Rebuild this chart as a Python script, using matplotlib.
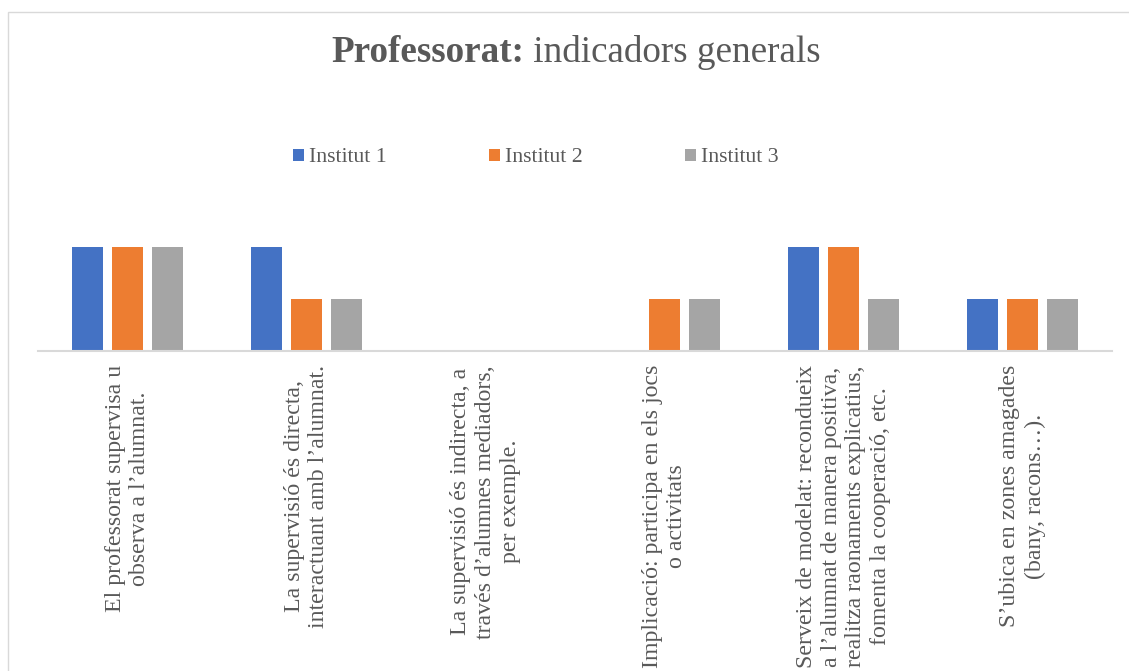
import matplotlib
matplotlib.use("Agg")
import matplotlib.pyplot as plt
import numpy as np
from matplotlib.patches import Rectangle

plt.rcParams['font.family'] = ['Liberation Serif', 'DejaVu Serif']

categories = [
    "El professorat supervisa u\nobserva a l\u2019alumnat.",
    "La supervisió és directa,\ninteractuant amb l\u2019alumnat.",
    "La supervisió és indirecta, a\ntravés d\u2019alumnes mediadors,\nper exemple.",
    "Implicació: participa en els jocs\no activitats",
    "Serveix de modelat: recondueix\na l\u2019alumnat de manera positiva,\nrealitza raonaments explicatius,\nfomenta la cooperació, etc.",
    "S\u2019ubica en zones amagades\n(bany, racons\u2026).",
]
series_names = ["Institut 1", "Institut 2", "Institut 3"]
institut1 = [2, 2, 0, 0, 2, 1]
institut2 = [2, 1, 0, 1, 2, 1]
institut3 = [2, 1, 0, 1, 1, 1]
colors = ["#4472C4", "#ED7D31", "#A5A5A5"]

W, H = 1129, 671
fig = plt.figure(figsize=(W / 100, H / 100), dpi=100)

# chart frame
fig.add_artist(Rectangle((8 / W, -0.05), 1.1, 1 - 12 / H + 0.05,
                         transform=fig.transFigure, fill=False,
                         edgecolor="#D9D9D9", linewidth=1.0))

left, right = 38, 1112
bottom, top = 351, 195
ax = fig.add_axes([left / W, 1 - bottom / H, (right - left) / W, (bottom - top) / H])

x = np.arange(len(categories))
bw = 0.175
step = 0.223
handles = []
for i, (vals, c, name) in enumerate(zip([institut1, institut2, institut3], colors, series_names)):
    b = ax.bar(x + (i - 1) * step, vals, width=bw, color=c, label=name, zorder=2)
    handles.append(b)

ax.set_xlim(-0.5, len(categories) - 0.5)
ax.set_ylim(0, 3)
for s in ["top", "right", "left"]:
    ax.spines[s].set_visible(False)
ax.spines["bottom"].set_color("#D9D9D9")
ax.spines["bottom"].set_linewidth(1.5)
ax.set_yticks([])
ax.set_xticks(x)
ax.set_xticklabels(categories, rotation=90, fontsize=17.2, color="#595959",
                   ha="center", va="top", multialignment="center", linespacing=1.24)
ax.tick_params(axis="x", length=0, pad=10)

# legend
fig.legend(handles=handles, labels=series_names, loc="center",
           bbox_to_anchor=(536 / W, 1 - 158 / H), ncol=3, frameon=False,
           fontsize=15.7, labelcolor="#595959", handlelength=0.5,
           handleheight=0.5, handletextpad=0.23, columnspacing=4.7)

# title with bold part
t1 = fig.text(331 / W, 1 - 53 / H, "Professorat:", fontsize=26.7, fontweight="bold",
              color="#595959", ha="left", va="center")
fig.canvas.draw()
bb = t1.get_window_extent()
fig.text(bb.x1 / W, 1 - 53 / H, " indicadors generals", fontsize=26.7,
         color="#595959", ha="left", va="center")

fig.savefig("out.png", dpi=100)
